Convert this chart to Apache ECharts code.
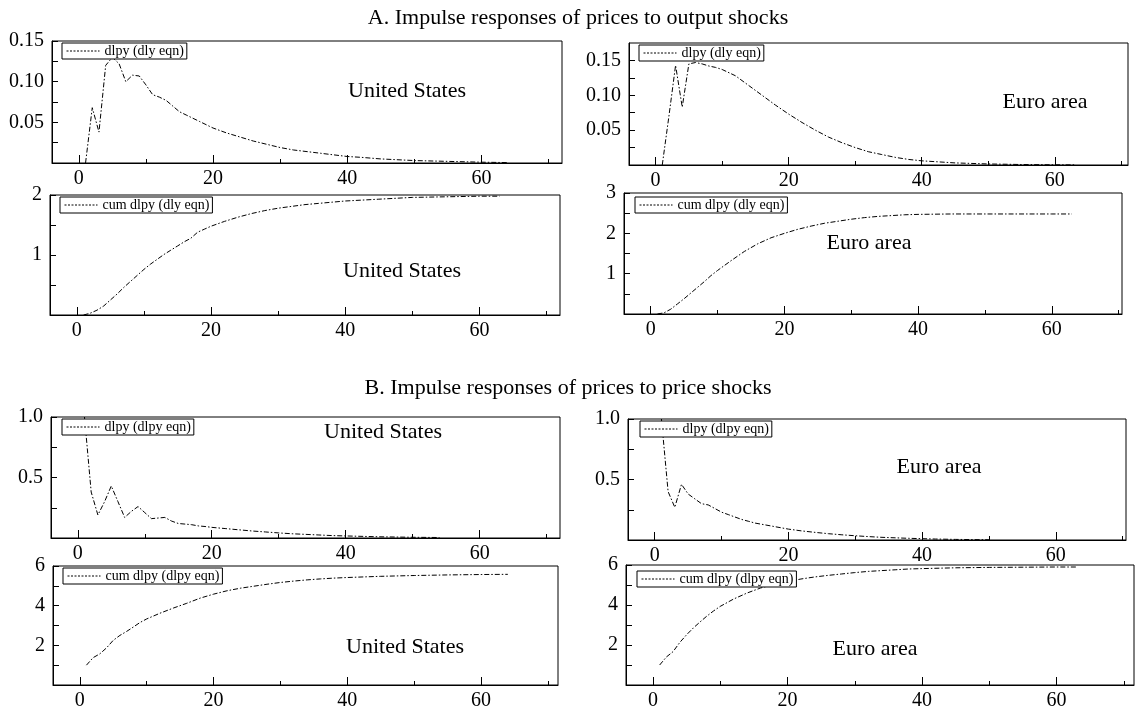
<!DOCTYPE html>
<html>
<head>
<meta charset="utf-8">
<script src="https://cdn.jsdelivr.net/npm/echarts@6/dist/echarts.min.js"></script>
<style>
html,body{margin:0;padding:0;background:#fff;}
#c{width:1140px;height:711px;}
</style>
</head>
<body>
<div id="c"></div>
<script>
// ---------- DATA ----------
const titleA = 'A. Impulse responses of prices to output shocks';
const titleB = 'B. Impulse responses of prices to price shocks';

const xTickLabels = [0, 20, 40, 60];
const xMinorTicks = [10, 30, 50, 70];

// A: prices to output shocks
const hUSOutDl = [1,2,3,4,5,6,7,8,9,10,11,12,13,14,15,16,17,18,19,20,22,24,26,28,30,32,34,36,38,40,42,45,50,55,60,64];
const dlpyUSOut = [0,0.068,0.038,0.12,0.13,0.122,0.100,0.108,0.107,0.096,0.084,0.081,0.077,0.070,0.063,0.059,0.055,0.051,0.047,0.043,0.037,0.032,0.027,0.023,0.019,0.016,0.014,0.012,0.010,0.008,0.007,0.005,0.003,0.002,0.001,0.0005];

const hEAOutDl = [1,2,3,4,5,6,7,8,9,10,12,14,16,18,20,22,24,26,28,30,32,34,36,38,40,45,50,55,60,63];
const dlpyEAOut = [0,0.07,0.143,0.083,0.145,0.147,0.145,0.142,0.140,0.137,0.128,0.114,0.100,0.086,0.073,0.061,0.050,0.040,0.032,0.025,0.019,0.015,0.011,0.008,0.006,0.003,0.0015,0.0007,0.0003,0.0002];

const hUSOutCum = [1,2,3,4,5,6,7,8,9,10,11,12,13,14,15,16,17,18,19,20,22,24,26,28,30,32,34,36,38,40,45,50,55,60,63];
const cumUSOut = [0,0.03,0.08,0.15,0.25,0.35,0.46,0.56,0.66,0.76,0.85,0.93,1.01,1.08,1.15,1.22,1.28,1.38,1.43,1.48,1.56,1.63,1.69,1.74,1.78,1.81,1.84,1.86,1.88,1.90,1.93,1.96,1.97,1.98,1.98];

const hEAOutCum = [1,2,3,4,5,6,7,8,9,10,12,14,16,18,20,22,24,26,28,30,32,34,36,38,40,45,50,55,60,63];
const cumEAOut = [0,0.03,0.12,0.25,0.38,0.52,0.66,0.80,0.95,1.08,1.32,1.55,1.74,1.89,2.0,2.1,2.18,2.25,2.30,2.35,2.39,2.42,2.44,2.46,2.47,2.48,2.48,2.48,2.48,2.48];

// B: prices to price shocks
const hUSPrDl = [1,2,3,4,5,6,7,8,9,10,11,12,13,14,15,16,17,18,19,20,22,24,26,28,30,32,34,36,38,40,45,50,54];
const dlpyUSPr = [1.0,0.38,0.19,0.30,0.43,0.30,0.17,0.22,0.26,0.21,0.16,0.165,0.17,0.14,0.12,0.115,0.11,0.10,0.095,0.088,0.078,0.068,0.058,0.05,0.042,0.035,0.03,0.025,0.02,0.017,0.01,0.006,0.004];

const hEAPrDl = [1,2,3,4,5,6,7,8,9,10,11,12,13,14,15,16,18,20,22,24,26,28,30,32,34,36,38,40,42,45,50];
const dlpyEAPr = [1.0,0.40,0.27,0.46,0.38,0.34,0.30,0.29,0.26,0.23,0.21,0.19,0.17,0.155,0.14,0.13,0.11,0.09,0.075,0.063,0.052,0.043,0.035,0.028,0.022,0.018,0.014,0.011,0.008,0.005,0.002];

const hUSPrCum = [1,2,3,4,5,6,7,8,9,10,12,14,16,18,20,22,24,26,28,30,32,34,36,38,40,45,50,55,60,64];
const cumUSPr = [1.0,1.38,1.57,1.87,2.25,2.5,2.7,2.92,3.15,3.33,3.62,3.88,4.12,4.38,4.58,4.75,4.88,4.98,5.08,5.17,5.24,5.30,5.35,5.39,5.42,5.48,5.52,5.55,5.57,5.58];

const hEAPrCum = [1,2,3,4,5,6,7,8,9,10,12,14,16,18,20,22,24,26,28,30,32,34,36,38,40,45,50,55,60,63];
const cumEAPr = [1.0,1.4,1.67,2.13,2.51,2.85,3.15,3.44,3.7,3.93,4.3,4.6,4.85,5.03,5.17,5.3,5.4,5.48,5.55,5.62,5.68,5.72,5.76,5.8,5.82,5.86,5.88,5.89,5.9,5.9];

// y-axis tick labels and tick marks
const yLabelsDlOutUS = [0.05, 0.10, 0.15];
const yTicksDlOutUS = [0.025, 0.05, 0.075, 0.10, 0.125, 0.15];
const yLabelsDlOutEA = [0.05, 0.10, 0.15];
const yTicksDlOutEA = [0.025, 0.05, 0.075, 0.10, 0.125, 0.15];
const yLabelsCumOutUS = [1, 2];
const yTicksCumOutUS = [0.5, 1, 1.5, 2];
const yLabelsCumOutEA = [1, 2, 3];
const yTicksCumOutEA = [0.5, 1, 1.5, 2, 2.5, 3];
const yLabelsDlPr = [0.5, 1.0];
const yTicksDlPr = [0.25, 0.5, 0.75, 1.0];
const yLabelsCumPr = [2, 4, 6];
const yTicksCumPr = [1, 2, 3, 4, 5, 6];

// ---------- LAYOUT ----------
const FONT = '"Liberation Serif","DejaVu Serif",serif';
const zip = (xs, ys) => xs.map((x, i) => [x, ys[i]]);

const panels = [
  {grid:{left:52,top:41,width:510,height:122}, xr:[-4,72], yr:[0,0.15], yl:yLabelsDlOutUS, yt:yTicksDlOutUS, dec:2,
   data:zip(hUSOutDl,dlpyUSOut), name:'dlpy (dly eqn)', leg:{left:62,top:43}, lab:{t:'United States',x:407,y:91}},
  {grid:{left:629,top:43,width:499,height:122}, xr:[-4,71], yr:[0,0.175], yl:yLabelsDlOutEA, yt:yTicksDlOutEA, dec:2,
   data:zip(hEAOutDl,dlpyEAOut), name:'dlpy (dly eqn)', leg:{left:639,top:45}, lab:{t:'Euro area',x:1045,y:102}},
  {grid:{left:50,top:195,width:510,height:120}, xr:[-4,72], yr:[0,2], yl:yLabelsCumOutUS, yt:yTicksCumOutUS, dec:0,
   data:zip(hUSOutCum,cumUSOut), name:'cum dlpy (dly eqn)', leg:{left:60,top:197}, lab:{t:'United States',x:402,y:271}},
  {grid:{left:624,top:193,width:498,height:121}, xr:[-4,70.5], yr:[0,3], yl:yLabelsCumOutEA, yt:yTicksCumOutEA, dec:0,
   data:zip(hEAOutCum,cumEAOut), name:'cum dlpy (dly eqn)', leg:{left:635,top:197}, lab:{t:'Euro area',x:869,y:243}},
  {grid:{left:51,top:417,width:509,height:121}, xr:[-4,72], yr:[0,1], yl:yLabelsDlPr, yt:yTicksDlPr, dec:1,
   data:zip(hUSPrDl,dlpyUSPr), name:'dlpy (dlpy eqn)', leg:{left:62,top:419}, lab:{t:'United States',x:383,y:432}},
  {grid:{left:628,top:419,width:498,height:121}, xr:[-4,70.5], yr:[0,1], yl:yLabelsDlPr, yt:yTicksDlPr, dec:1,
   data:zip(hEAPrDl,dlpyEAPr), name:'dlpy (dlpy eqn)', leg:{left:640,top:421}, lab:{t:'Euro area',x:939,y:467}},
  {grid:{left:53,top:566,width:505,height:121}, xr:[-4,71.5], yr:[0,6], yl:yLabelsCumPr, yt:yTicksCumPr, dec:0,
   data:zip(hUSPrCum,cumUSPr), name:'cum dlpy (dlpy eqn)', leg:{left:63,top:568}, lab:{t:'United States',x:405,y:647}},
  {grid:{left:626,top:565,width:508,height:121}, xr:[-4,71.5], yr:[0,6], yl:yLabelsCumPr, yt:yTicksCumPr, dec:0,
   data:zip(hEAPrCum,cumEAPr), name:'cum dlpy (dlpy eqn)', leg:{left:637,top:571}, lab:{t:'Euro area',x:875,y:649}}
];

const grid = [], xAxis = [], yAxis = [], series = [], legend = [], graphic = [];
const black = '#000';

panels.forEach((p, i) => {
  grid.push(Object.assign({show:true, borderColor:black, borderWidth:1, backgroundColor:'transparent'}, p.grid));
  // major x axis
  xAxis.push({
    type:'value', gridIndex:i, position:'bottom', min:p.xr[0], max:p.xr[1],
    axisLine:{show:true, onZero:false, lineStyle:{color:black, width:1}},
    axisTick:{show:true, inside:true, length:8, customValues:xTickLabels, lineStyle:{color:black}},
    axisLabel:{show:true, customValues:xTickLabels, color:black, fontFamily:FONT, fontSize:20, margin:6},
    splitLine:{show:false}
  });
  // minor x ticks overlay
  xAxis.push({
    type:'value', gridIndex:i, position:'bottom', offset:0, min:p.xr[0], max:p.xr[1],
    axisLine:{show:false, onZero:false},
    axisTick:{show:true, inside:true, length:4, customValues:xMinorTicks, lineStyle:{color:black}},
    axisLabel:{show:false},
    splitLine:{show:false}
  });
  yAxis.push({
    type:'value', gridIndex:i, min:p.yr[0], max:p.yr[1],
    axisLine:{show:true, onZero:false, lineStyle:{color:black, width:1}},
    axisTick:{show:true, inside:true, length:6, customValues:p.yt, lineStyle:{color:black}},
    axisLabel:{show:true, customValues:p.yl, color:black, fontFamily:FONT, fontSize:20, margin:8,
      formatter:(v) => Number(v).toFixed(p.dec)},
    splitLine:{show:false}
  });
  series.push({
    type:'line', name:p.name, xAxisIndex:2*i, yAxisIndex:i,
    data:p.data, symbol:'none', showSymbol:false, silent:true,
    lineStyle:{color:black, width:1, type:[5,2,1.5,2]},
    itemStyle:{color:black}
  });
  legend.push({
    show:true, left:p.leg.left, top:p.leg.top, data:[p.name], selectedMode:false,
    orient:'horizontal', backgroundColor:'#fff',
    borderColor:black, borderWidth:1, borderRadius:0, padding:[1,3,1,4],
    itemWidth:33, itemHeight:10, itemGap:0,
    itemStyle:{opacity:0, borderWidth:0},
    lineStyle:{type:[2,1.5], width:1, color:black, opacity:1},
    textStyle:{color:black, fontFamily:FONT, fontSize:14}
  });
  graphic.push({
    type:'text', x:p.lab.x, y:p.lab.y, silent:true,
    style:{text:p.lab.t, fill:black, font:'22px ' + FONT, align:'center', verticalAlign:'middle',
      textAlign:'center', textVerticalAlign:'middle'}
  });
});

graphic.push({type:'text', x:578, y:18, silent:true,
  style:{text:titleA, fill:black, font:'22px ' + FONT, align:'center', verticalAlign:'middle', textAlign:'center', textVerticalAlign:'middle'}});
graphic.push({type:'text', x:568, y:388, silent:true,
  style:{text:titleB, fill:black, font:'22px ' + FONT, align:'center', verticalAlign:'middle', textAlign:'center', textVerticalAlign:'middle'}});

const chart = echarts.init(document.getElementById('c'), null, {renderer:'canvas'});
chart.setOption({
  animation:false,
  backgroundColor:'#fff',
  grid, xAxis, yAxis, series, legend, graphic
});
</script>
</body>
</html>
